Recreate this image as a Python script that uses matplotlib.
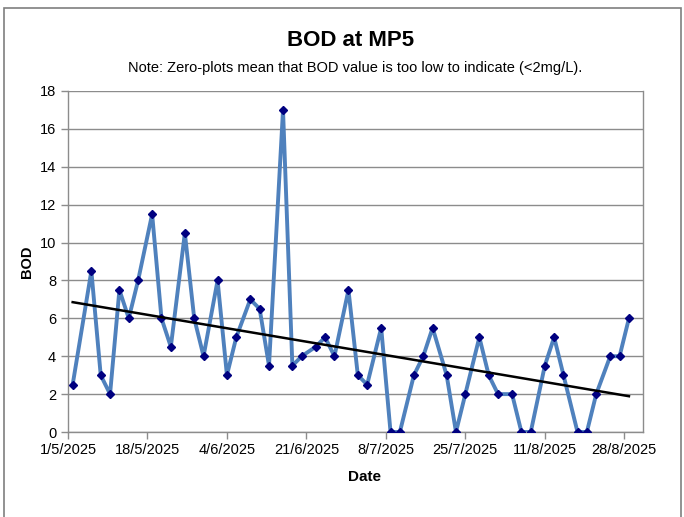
import numpy as np
import pandas as pd
import matplotlib
matplotlib.use('Agg')
import matplotlib.pyplot as plt
import matplotlib.dates as mdates
from matplotlib.patches import Rectangle

plt.rcParams['font.family'] = ['Liberation Sans', 'DejaVu Sans']

# sampling days (counted from 1/5/2025) and BOD readings
days = [1, 5, 7, 9, 11, 13, 15, 18, 20, 22, 25, 27, 29, 32,
        34, 36, 39, 41, 43, 46, 48, 50, 53, 55, 57, 60, 62,
        64, 67, 69, 71, 74, 76, 78, 81, 83, 85, 88, 90, 92,
        95, 97, 99, 102, 104, 106, 109, 111, 113, 116, 118, 120]
bod = [2.5, 8.5, 3, 2, 7.5, 6, 8, 11.5, 6, 4.5, 10.5, 6, 4, 8,
       3, 5, 7, 6.5, 3.5, 17, 3.5, 4, 4.5, 5, 4, 7.5, 3,
       2.5, 5.5, 0, 0, 3, 4, 5.5, 3, 0, 2, 5, 3, 2,
       2, 0, 0, 3.5, 5, 3, 0, 0, 2, 4, 4, 6]

start = pd.Timestamp('2025-05-01')
dates = start + pd.to_timedelta(days, unit='D')
tick_dates = pd.date_range(start, periods=8, freq='17D')

# linear trendline like Excel
x_num = mdates.date2num(dates)
k, b = np.polyfit(x_num, bod, 1)

fig = plt.figure(figsize=(6.84, 5.17), dpi=100)
ax = fig.add_axes([0.0994, 0.1644, 0.8406, 0.6596])

ax.plot(dates, bod, color='#4F81BD', lw=2.8, zorder=3)
ax.plot(dates, bod, ls='none', marker='D', ms=4, color='#000080', zorder=4)
ax.plot([x_num[0], x_num[-1]], [k * x_num[0] + b, k * x_num[-1] + b],
        color='black', lw=1.8, zorder=5)

ax.set_ylim(0, 18)
ax.set_yticks(range(0, 19, 2))
ax.set_xlim(mdates.date2num(start), mdates.date2num(start + pd.Timedelta(days=123)))
ax.set_xticks(mdates.date2num(tick_dates))
ax.set_xticklabels([f'{d.day}/{d.month}/{d.year}' for d in tick_dates])

ax.grid(axis='y', color='#8c8c8c', lw=1)
ax.set_axisbelow(True)
for s in ax.spines.values():
    s.set_color('#8c8c8c')
    s.set_linewidth(1)
ax.spines['top'].set_visible(False)
ax.tick_params(colors='#8c8c8c', labelcolor='black', labelsize=10.5, length=5, width=1)
ax.tick_params(axis='x', pad=3)

ax.set_xlabel('Date', fontsize=11, fontweight='bold', labelpad=9, x=0.516)
ax.set_ylabel('BOD', fontsize=10.5, fontweight='bold', labelpad=4)

fig.text(351 / 684, 1 - 40 / 517, 'BOD at MP5', ha='center', va='center',
         fontsize=16, fontweight='bold')
fig.text(355 / 684, 1 - 68 / 517,
         'Note: Zero-plots mean that BOD value is too low to indicate (<2mg/L).',
         ha='center', va='center', fontsize=10.5)

# chart border
fig.patches.append(Rectangle((4 / 684, -0.05), 677 / 684, 1 - 8 / 517 + 0.05,
                             transform=fig.transFigure, fill=False,
                             edgecolor='#7f7f7f', lw=1.2))

fig.savefig('out.png', dpi=100)
